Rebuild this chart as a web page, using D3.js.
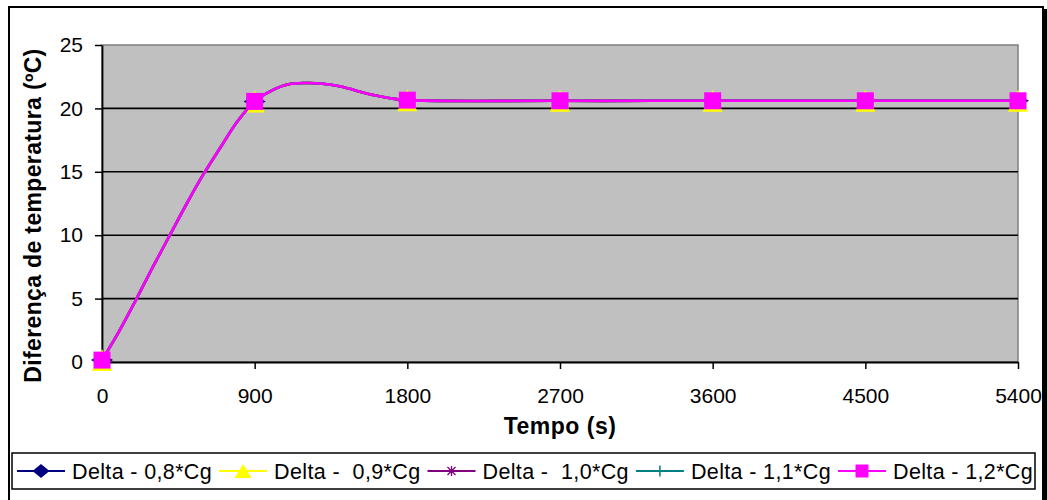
<!DOCTYPE html>
<html>
<head>
<meta charset="utf-8">
<script src="https://cdn.jsdelivr.net/npm/d3@7"></script>
<style>
  html, body { margin: 0; padding: 0; background: #fff; }
  svg { display: block; }
  text { font-family: "Liberation Sans", Arial, Helvetica, sans-serif; fill: #000; }
</style>
</head>
<body>
<svg id="chart" width="1047" height="500"></svg>
<script>
// ---- data ----
const times = [0, 100, 200, 300, 400, 500, 600, 700, 800, 900, 1000, 1100, 1200, 1300, 1400, 1500, 1600, 1700, 1800, 2700, 3600, 4500, 5400];
const delta08 = [0.15, 2.4, 4.9, 7.5, 10.0, 12.5, 14.85, 16.95, 19.0, 20.55, 21.4, 21.9, 22.0, 21.95, 21.75, 21.4, 21.05, 20.8, 20.65, 20.6, 20.6, 20.6, 20.6];
const delta09 = [0.15, 2.4, 4.9, 7.5, 10.0, 12.5, 14.85, 16.95, 19.0, 20.55, 21.4, 21.9, 22.0, 21.95, 21.75, 21.4, 21.05, 20.8, 20.65, 20.6, 20.6, 20.6, 20.6];
const delta10 = [0.15, 2.4, 4.9, 7.5, 10.0, 12.5, 14.85, 16.95, 19.0, 20.55, 21.4, 21.9, 22.0, 21.95, 21.75, 21.4, 21.05, 20.8, 20.65, 20.6, 20.6, 20.6, 20.6];
const delta11 = [0.15, 2.4, 4.9, 7.5, 10.0, 12.5, 14.85, 16.95, 19.0, 20.55, 21.4, 21.9, 22.0, 21.95, 21.75, 21.4, 21.05, 20.8, 20.65, 20.6, 20.6, 20.6, 20.6];
const delta12 = [0.15, 2.4, 4.9, 7.5, 10.0, 12.5, 14.85, 16.95, 19.0, 20.55, 21.4, 21.9, 22.0, 21.95, 21.75, 21.4, 21.05, 20.8, 20.65, 20.6, 20.6, 20.6, 20.6];
const markerTimes = [0, 900, 1800, 2700, 3600, 4500, 5400];
const seriesNames = ["Delta - 0,8*Cg", "Delta -  0,9*Cg", "Delta -  1,0*Cg", "Delta - 1,1*Cg", "Delta - 1,2*Cg"];
const xTicks = [0, 900, 1800, 2700, 3600, 4500, 5400];
const yTicks = [0, 5, 10, 15, 20, 25];
const xTitle = "Tempo (s)";
const yTitle = "Diferença de temperatura (ºC)";

// ---- styles ----
const seriesValues = [delta08, delta09, delta10, delta11, delta12];
const colors = ["#000080", "#FFFF00", "#800080", "#008080", "#FF00FF"];
const shapes = ["diamond", "triangle", "star", "cross", "square"];

const svg = d3.select("#chart");
const plot = { left: 102, right: 1018, top: 45, bottom: 362 };

// outer frame
svg.append("rect").attr("x", 9).attr("y", 7).attr("width", 1034).attr("height", 520)
  .attr("fill", "#fff").attr("stroke", "#000").attr("stroke-width", 2);
svg.append("rect").attr("x", 1043).attr("y", 9).attr("width", 4).attr("height", 500).attr("fill", "#000");

const x = d3.scaleLinear().domain([0, 5400]).range([plot.left, plot.right]);
const y = d3.scaleLinear().domain([0, 25]).range([plot.bottom, plot.top]);

// plot background
svg.append("rect").attr("x", plot.left).attr("y", plot.top)
  .attr("width", plot.right - plot.left).attr("height", plot.bottom - plot.top)
  .attr("fill", "#C0C0C0").attr("stroke", "#808080").attr("stroke-width", 1.5);

// gridlines
svg.append("g").selectAll("line").data(yTicks.filter(d => d > 0 && d < 25)).join("line")
  .attr("x1", plot.left).attr("x2", plot.right)
  .attr("y1", d => y(d)).attr("y2", d => y(d))
  .attr("stroke", "#000").attr("stroke-width", 1.6);

// axes
const xAxis = svg.append("g").attr("transform", `translate(0,${plot.bottom})`)
  .call(d3.axisBottom(x).tickValues(xTicks).tickFormat(d3.format("d")).tickSize(7).tickPadding(19).tickSizeOuter(0));
const yAxis = svg.append("g").attr("transform", `translate(${plot.left},0)`)
  .call(d3.axisLeft(y).tickValues(yTicks).tickFormat(d3.format("d")).tickSize(7).tickPadding(12).tickSizeOuter(0));
[xAxis, yAxis].forEach(g => {
  g.select(".domain").attr("stroke", "#000").attr("stroke-width", 1.8);
  g.selectAll(".tick line").attr("stroke", "#000").attr("stroke-width", 1.5);
  g.selectAll(".tick text").attr("font-size", 21)
    .attr("font-family", '"Liberation Sans", Arial, sans-serif').attr("fill", "#000");
});

// axis titles
svg.append("text").attr("x", (plot.left + plot.right) / 2).attr("y", 434)
  .attr("text-anchor", "middle").attr("font-size", 23).attr("font-weight", "bold")
  .attr("letter-spacing", 0.5).text(xTitle);
svg.append("text").attr("transform", `translate(41,${(plot.top + plot.bottom) / 2 + 12}) rotate(-90)`)
  .attr("text-anchor", "middle").attr("font-size", 23).attr("font-weight", "bold")
  .attr("letter-spacing", 0.35).text(yTitle);

// marker drawing
function drawMarker(g, shape, color, cx, cy, big) {
  if (shape === "diamond") {
    const w = big ? 11 : 8.5, h = big ? 6.5 : 7;
    g.append("path").attr("d", `M${cx - w},${cy}L${cx},${cy - h}L${cx + w},${cy}L${cx},${cy + h}Z`).attr("fill", color);
  } else if (shape === "triangle") {
    const w = big ? 10 : 8.5, h = big ? 11 : 7;
    g.append("path").attr("d", `M${cx},${cy - h}L${cx + w},${cy + h}L${cx - w},${cy + h}Z`).attr("fill", color);
  } else if (shape === "star") {
    const r = 4;
    g.append("path").attr("d",
      `M${cx - r},${cy - r}L${cx + r},${cy + r}M${cx - r},${cy + r}L${cx + r},${cy - r}M${cx},${cy - r - 1}L${cx},${cy + r + 1}`)
      .attr("stroke", color).attr("stroke-width", 1.3).attr("fill", "none");
  } else if (shape === "cross") {
    const r = 5.5;
    g.append("path").attr("d", `M${cx - r},${cy}L${cx + r},${cy}M${cx},${cy - r}L${cx},${cy + r}`)
      .attr("stroke", color).attr("stroke-width", 1.5).attr("fill", "none");
  } else if (shape === "square") {
    const h = big ? 8.5 : 6.5;
    g.append("rect").attr("x", cx - h).attr("y", cy - h).attr("width", 2 * h).attr("height", 2 * h).attr("fill", color);
  }
}

// series
const line = d3.line().x(d => x(d[0])).y(d => y(d[1])).curve(d3.curveCatmullRom.alpha(0.5));
seriesValues.forEach((vals, i) => {
  const pts = times.map((t, k) => [t, vals[k]]);
  const g = svg.append("g");
  g.append("path").datum(pts).attr("d", line)
    .attr("fill", "none").attr("stroke", colors[i]).attr("stroke-width", 2.6);
  markerTimes.forEach(t => {
    const k = times.indexOf(t);
    drawMarker(g, shapes[i], colors[i], x(t), y(vals[k]), true);
  });
});

// legend
const legend = { x: 12, y: 453, w: 1023, h: 36 };
svg.append("rect").attr("x", legend.x).attr("y", legend.y).attr("width", legend.w).attr("height", legend.h)
  .attr("fill", "#fff").attr("stroke", "#000").attr("stroke-width", 1.5);
const ly = legend.y + legend.h / 2;
let cursor = 17;
seriesNames.forEach((name, i) => {
  const g = svg.append("g");
  g.append("line").attr("x1", cursor).attr("x2", cursor + 48).attr("y1", ly).attr("y2", ly)
    .attr("stroke", colors[i]).attr("stroke-width", 2);
  drawMarker(g, shapes[i], colors[i], cursor + 24, ly, false);
  const t = g.append("text").attr("x", cursor + 55).attr("y", ly + 7.5)
    .attr("font-size", 21.5).attr("letter-spacing", 0.36).style("white-space", "pre").text(name);
  cursor = cursor + 55 + t.node().getComputedTextLength() + 7;
});
</script>
</body>
</html>
